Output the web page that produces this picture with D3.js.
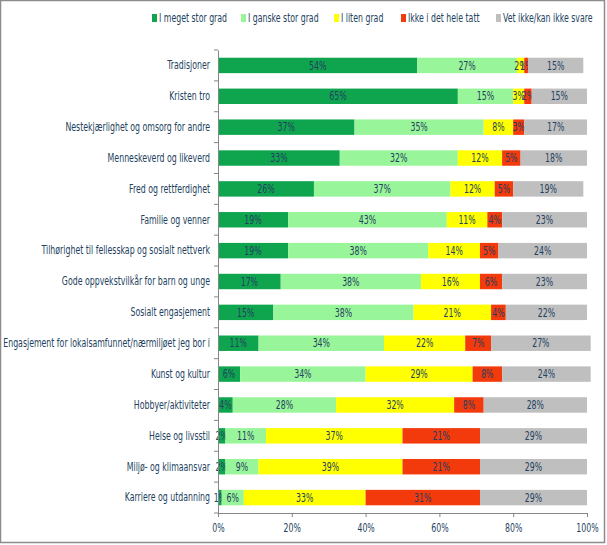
<!DOCTYPE html>
<html>
<head>
<meta charset="utf-8">
<script src="https://cdn.jsdelivr.net/npm/d3@7"></script>
<style>
  body { margin: 0; background: #fff; }
  svg text { font-family: "DejaVu Sans Condensed", "Liberation Sans", sans-serif; fill: #243F60; }
</style>
</head>
<body>
<div id="chart"></div>
<script>
(function () {
    // kategorier (ovenfra og ned)
    const categories = [
        "Tradisjoner",
        "Kristen tro",
        "Nestekjærlighet og omsorg for andre",
        "Menneskeverd og likeverd",
        "Fred og rettferdighet",
        "Familie og venner",
        "Tilhørighet til fellesskap og sosialt nettverk",
        "Gode oppvekstvilkår for barn og unge",
        "Sosialt engasjement",
        "Engasjement for lokalsamfunnet/nærmiljøet jeg bor i",
        "Kunst og kultur",
        "Hobbyer/aktiviteter",
        "Helse og livsstil",
        "Miljø- og klimaansvar",
        "Karriere og utdanning"
    ];

    const seriesNames = ["I meget stor grad", "I ganske stor grad", "I liten grad", "Ikke i det hele tatt", "Vet ikke/kan ikke svare"];
    const seriesColors = ["#0FA54F", "#99F599", "#FFFF00", "#F23A0C", "#BFBFBF"];

    const meget = [54, 65, 37, 33, 26, 19, 19, 17, 15, 11, 6, 4, 2, 2, 1];
    const ganske = [27, 15, 35, 32, 37, 43, 38, 38, 38, 34, 34, 28, 11, 9, 6];
    const liten = [2, 3, 8, 12, 12, 11, 14, 16, 21, 22, 29, 32, 37, 39, 33];
    const ikke = [1, 2, 3, 5, 5, 4, 5, 6, 4, 7, 8, 8, 21, 21, 31];
    const vetIkke = [15, 15, 17, 18, 19, 23, 24, 23, 22, 27, 24, 28, 29, 29, 29];

    const xTicks = [0, 20, 40, 60, 80, 100];

    const width = 607, height = 545;
    const margin = { top: 50, right: 20, bottom: 32, left: 218 };
    const fs = 12;

    const rows = categories.map((c, i) => ({
        cat: c, meget: meget[i], ganske: ganske[i], liten: liten[i], ikke: ikke[i], vetIkke: vetIkke[i]
    }));
    const keys = ["meget", "ganske", "liten", "ikke", "vetIkke"];
    const stacked = d3.stack().keys(keys)(rows);

    const svg = d3.select("#chart").append("svg")
        .attr("width", width)
        .attr("height", height);

    // originalen bruker en smal skrift (Calibri) - vi klemmer teksten vannrett
    const probe = svg.append("text").attr("font-size", fs).text(categories[9]);
    const k = 207 / probe.node().getComputedTextLength();
    probe.remove();

    function squeeze(sel) {
        sel.each(function () {
            const t = d3.select(this);
            const x0 = +t.attr("x") || 0;
            t.attr("x", x0 / k).attr("transform", `scale(${k},1)`);
        });
    }

    // ramme
    svg.append("rect")
        .attr("x", 0.5).attr("y", 0.5)
        .attr("width", width - 3).attr("height", height - 3)
        .attr("fill", "#fff")
        .attr("stroke", "#8C8C8C")
        .attr("stroke-width", 1.5);

    const x = d3.scaleLinear().domain([0, 100]).range([margin.left, 587]);
    const y = d3.scaleBand().domain(categories)
        .range([margin.top, 513])
        .paddingInner(0.5).paddingOuter(0.25);

    const layer = svg.append("g").selectAll("g.series").data(stacked).enter()
        .append("g").attr("class", "series")
        .attr("fill", (d, i) => seriesColors[i]);

    layer.selectAll("rect").data(d => d).enter().append("rect")
        .attr("x", d => x(d[0]))
        .attr("y", d => y(d.data.cat))
        .attr("width", d => x(d[1]) - x(d[0]))
        .attr("height", y.bandwidth());

    layer.selectAll("text").data(d => d.map(v => ({ v: v, key: d.key }))).enter().append("text")
        .attr("x", d => (x(d.v[0]) + x(d.v[1])) / 2)
        .attr("y", d => y(d.v.data.cat) + y.bandwidth() / 2)
        .attr("dy", "0.35em")
        .attr("text-anchor", "middle")
        .attr("font-size", fs)
        .attr("fill", "#243F60")
        .text(d => d.v.data[d.key] + "%")
        .call(squeeze);

    // y-akse
    const yAxis = d3.axisLeft(y).tickSize(0).tickPadding(8);
    const ya = svg.append("g").attr("transform", `translate(${margin.left},0)`).call(yAxis);
    ya.select(".domain").attr("stroke", "#868686");
    ya.selectAll("text").attr("font-size", fs).attr("fill", "#243F60").call(squeeze);

    // tick-streker mellom kategoriene
    const bounds = d3.range(categories.length + 1).map(i => margin.top + i * (513 - margin.top) / categories.length);
    svg.append("g").selectAll("line").data(bounds).enter().append("line")
        .attr("x1", margin.left - 4).attr("x2", margin.left)
        .attr("y1", d => d).attr("y2", d => d)
        .attr("stroke", "#868686");

    // x-akse
    const xAxis = d3.axisBottom(x).tickValues(xTicks).tickFormat(d => d + "%").tickSize(4).tickPadding(6);
    const xa = svg.append("g").attr("transform", "translate(0,513)").call(xAxis);
    xa.select(".domain").attr("stroke", "#868686");
    xa.selectAll("line").attr("stroke", "#868686");
    xa.selectAll("text").attr("font-size", fs).attr("fill", "#243F60").call(squeeze);

    // legende
    const legendX = [152, 241, 334, 401, 496];
    const lg = svg.append("g").selectAll("g").data(seriesNames).enter().append("g")
        .attr("transform", (d, i) => `translate(${legendX[i]},18)`);
    lg.append("rect").attr("x", 0).attr("y", -4).attr("width", 5).attr("height", 8)
        .attr("fill", (d, i) => seriesColors[i]);
    lg.append("text").attr("x", 7).attr("dy", "0.35em").attr("font-size", fs).text(d => d).call(squeeze);
})();
</script>
</body>
</html>
